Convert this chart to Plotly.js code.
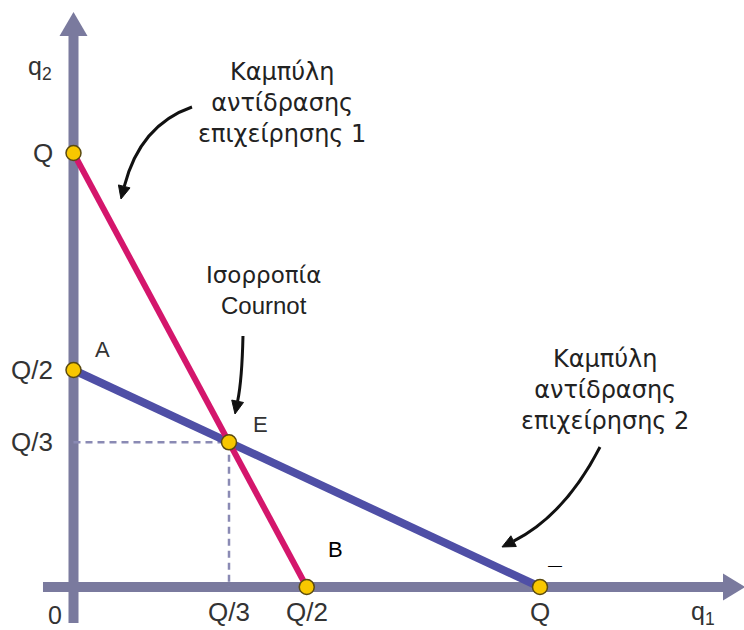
<!DOCTYPE html>
<html>
<head>
<meta charset="utf-8">
<script src="https://cdn.plot.ly/plotly-3.0.1.min.js"></script>
<style>
  html, body { margin: 0; padding: 0; background: #ffffff; }
  #chart { width: 744px; height: 630px; }
</style>
</head>
<body>
<div id="chart"></div>
<script>
// Cournot duopoly: reaction curves of two firms, Q = total market quantity (normalised to 1)
const Q = 1;

// Reaction curve of firm 1: from (0, Q) down to (Q/2, 0)
const firm1X = [0, Q / 2];
const firm1Y = [Q, 0];

// Reaction curve of firm 2: from (0, Q/2) down to (Q, 0)
const firm2X = [0, Q];
const firm2Y = [Q / 2, 0];

// Cournot equilibrium E
const eqX = [Q / 3];
const eqY = [Q / 3];

// Highlighted points on the axes and the equilibrium
const pointX = [0, 0, Q / 3, Q / 2, Q];
const pointY = [Q, Q / 2, Q / 3, 0, 0];

// Axis labels
const yTickVals = [Q, Q / 2, Q / 3];
const yTickText = ['Q', 'Q/2', 'Q/3'];
const xTickVals = [Q / 3, Q / 2, Q];
const xTickText = ['Q/3', 'Q/2', 'Q'];

const LATIN = 'Liberation Sans, Arial, sans-serif';
const GREEK = 'DejaVu Sans, sans-serif';

// Callout texts
const curve1Text = 'Καμπύλη<br>αντίδρασης<br>επιχείρησης 1';
const curve2Text = 'Καμπύλη<br>αντίδρασης<br>επιχείρησης 2';
const equilibriumText = ['Ισορροπία', 'Cournot'];

const AXIS_COLOR = '#7a7a9e';
const RED = '#d4166c';
const BLUE = '#4f4fa6';
const DASH_COLOR = '#8a8ab4';
const TEXT_COLOR = '#333333';
const ARROW_COLOR = '#111111';

const traces = [
  // dashed guides to the equilibrium
  {
    x: [0, eqX[0], eqX[0]], y: [eqY[0], eqY[0], 0],
    mode: 'lines', line: { color: DASH_COLOR, width: 2.5, dash: '7px,5px' },
    hoverinfo: 'skip', showlegend: false
  },
  {
    x: firm2X, y: firm2Y, mode: 'lines',
    line: { color: BLUE, width: 8 }, hoverinfo: 'skip', showlegend: false
  },
  {
    x: firm1X, y: firm1Y, mode: 'lines',
    line: { color: RED, width: 6 }, hoverinfo: 'skip', showlegend: false
  },
  {
    x: pointX, y: pointY, mode: 'markers',
    marker: { size: 15, color: '#f8c700', line: { color: '#5a4a10', width: 1.5 } },
    hoverinfo: 'skip', showlegend: false
  }
];

// Axes drawn as thick arrows
const xEnd = 1.3923, yEnd = 1.2696;
const shapes = [
  { type: 'line', layer: 'below', xref: 'x', yref: 'y', x0: -0.0654, y0: 0, x1: xEnd, y1: 0,
    line: { color: AXIS_COLOR, width: 10 } },
  { type: 'line', layer: 'below', xref: 'x', yref: 'y', x0: 0, y0: -0.0829, x1: 0, y1: yEnd,
    line: { color: AXIS_COLOR, width: 10 } },
  { type: 'path', layer: 'below', xref: 'x', yref: 'y',
    path: `M ${xEnd} 0.0311 L 1.4395 0 L ${xEnd} -0.0311 Z`,
    fillcolor: AXIS_COLOR, line: { width: 0 } },
  { type: 'path', layer: 'below', xref: 'x', yref: 'y',
    path: `M -0.0300 ${yEnd} L 0 1.3249 L 0.0300 ${yEnd} Z`,
    fillcolor: AXIS_COLOR, line: { width: 0 } }
];

// Curved callout arrows: quadratic curve plus a filled triangular head
const calloutArrows = [
  { curve: 'M 0.2540 1.1060 Q 0.1426 1.0645 0.1088 0.9230',
    head: 'M 0.1018 0.8940 L 0.1212 0.9196 L 0.0963 0.9264 Z' },
  { curve: 'M 0.3633 0.5783 Q 0.3612 0.4770 0.3518 0.4280',
    head: 'M 0.3462 0.3986 L 0.3644 0.4252 L 0.3392 0.4307 Z' },
  { curve: 'M 1.1286 0.3226 Q 1.0536 0.1659 0.9434 0.1057',
    head: 'M 0.9185 0.0922 L 0.9492 0.0933 L 0.9376 0.1180 Z' }
];
calloutArrows.forEach(a => {
  shapes.push({ type: 'path', xref: 'x', yref: 'y', path: a.curve,
    line: { color: ARROW_COLOR, width: 3 } });
  shapes.push({ type: 'path', xref: 'x', yref: 'y', path: a.head,
    fillcolor: ARROW_COLOR, line: { color: ARROW_COLOR, width: 1 } });
});

const annotations = [];

// y-axis labels
yTickVals.forEach((v, i) => annotations.push({
  x: 0, y: v, xref: 'x', yref: 'y', text: yTickText[i], showarrow: false,
  xanchor: 'right', yanchor: 'middle', xshift: -19,
  font: { family: LATIN, size: 26, color: TEXT_COLOR }
}));
// x-axis labels
xTickVals.forEach((v, i) => annotations.push({
  x: v, y: 0, xref: 'x', yref: 'y', text: xTickText[i], showarrow: false,
  xanchor: 'center', yanchor: 'middle', yshift: -25,
  font: { family: LATIN, size: 26, color: TEXT_COLOR }
}));

const label = (x, y, text, size, color, family) => ({
  x, y, xref: 'x', yref: 'y', text, showarrow: false,
  xanchor: 'center', yanchor: 'middle',
  font: { family: family || LATIN, size, color: color || TEXT_COLOR }
});

annotations.push(label(-0.0397, -0.0645, '0', 25));
annotations.push(label(-0.0718, 1.1959, 'q<sub>2</sub>', 25));
annotations.push(label(1.3494, -0.0600, 'q<sub>1</sub>', 25));
annotations.push(label(0.0611, 0.5461, 'A', 22));
annotations.push(label(0.3998, 0.3733, 'E', 22));
annotations.push(label(0.5606, 0.0853, 'B', 22, '#000000'));
annotations.push(label(1.0322, 0.0507, '—', 14, '#000000'));

// callout blocks
annotations.push(label(0.4470, 1.1160, curve1Text, 24, '#222222', GREEK));
annotations.push(label(0.4084, 0.7189, equilibriumText[0], 23, '#222222', GREEK));
annotations.push(label(0.4084, 0.6475, equilibriumText[1], 24, '#222222', LATIN));
annotations.push(label(1.1393, 0.4539, curve2Text, 24, '#222222', GREEK));

const layout = {
  width: 744, height: 630,
  margin: { l: 0, r: 0, t: 0, b: 0 },
  paper_bgcolor: '#ffffff', plot_bgcolor: '#ffffff',
  xaxis: { range: [-0.15756, 1.43730], visible: false, fixedrange: true },
  yaxis: { range: [-0.09908, 1.35253], visible: false, fixedrange: true },
  shapes, annotations,
  showlegend: false
};

Plotly.newPlot('chart', traces, layout, { displayModeBar: false, staticPlot: true });
</script>
</body>
</html>
